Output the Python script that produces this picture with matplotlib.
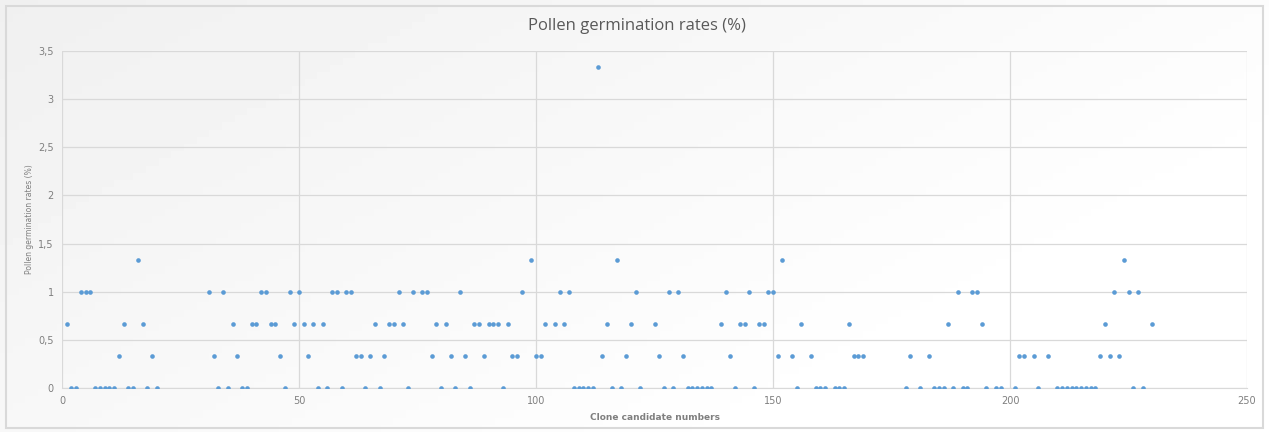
import numpy as np
import matplotlib.pyplot as plt
from matplotlib.patches import Rectangle
from matplotlib.ticker import FuncFormatter

# clone candidate number -> pollen germination rate (%)
clones = [1, 2, 3, 4, 5, 6, 7, 8, 9, 10, 11, 12, 13, 14, 15, 16, 17, 18, 19, 20,
          31, 32, 33, 34, 35, 36, 37, 38, 39, 40, 41, 42, 43, 44, 45, 46, 47, 48, 49, 50,
          51, 52, 53, 54, 55, 56, 57, 58, 59, 60, 61, 62, 63, 64, 65, 66, 67, 68, 69, 70,
          71, 72, 73, 74, 76, 77, 78, 79, 80, 81, 82, 83, 84, 85, 86, 87, 88, 89, 90,
          91, 92, 93, 94, 95, 96, 97, 99, 100, 101, 102, 104, 105, 106, 107, 108, 109, 110,
          111, 112, 113, 114, 115, 116, 117, 118, 119, 120, 121, 122, 125, 126, 127, 128, 129, 130,
          131, 132, 133, 134, 135, 136, 137, 139, 140, 141, 142, 143, 144, 145, 146, 147, 148, 149, 150,
          151, 152, 154, 155, 156, 158, 159, 160, 161, 163, 164, 165, 166, 167, 168, 169,
          178, 179, 181, 183, 184, 185, 186, 187, 188, 189, 190, 191, 192, 193, 194, 195, 197, 198,
          201, 202, 203, 205, 206, 208, 210, 211, 212, 213, 214, 215, 216, 217, 218, 219, 220,
          221, 222, 223, 224, 225, 226, 227, 228, 230]
rates = [0.667, 0, 0, 1, 1, 1, 0, 0, 0, 0, 0, 0.333, 0.667, 0, 0, 1.333, 0.667, 0, 0.333, 0,
         1, 0.333, 0, 1, 0, 0.667, 0.333, 0, 0, 0.667, 0.667, 1, 1, 0.667, 0.667, 0.333, 0, 1, 0.667, 1,
         0.667, 0.333, 0.667, 0, 0.667, 0, 1, 1, 0, 1, 1, 0.333, 0.333, 0, 0.333, 0.667, 0, 0.333, 0.667, 0.667,
         1, 0.667, 0, 1, 1, 1, 0.333, 0.667, 0, 0.667, 0.333, 0, 1, 0.333, 0, 0.667, 0.667, 0.333, 0.667,
         0.667, 0.667, 0, 0.667, 0.333, 0.333, 1, 1.333, 0.333, 0.333, 0.667, 0.667, 1, 0.667, 1, 0, 0, 0,
         0, 0, 3.333, 0.333, 0.667, 0, 1.333, 0, 0.333, 0.667, 1, 0, 0.667, 0.333, 0, 1, 0, 1,
         0.333, 0, 0, 0, 0, 0, 0, 0.667, 1, 0.333, 0, 0.667, 0.667, 1, 0, 0.667, 0.667, 1, 1,
         0.333, 1.333, 0.333, 0, 0.667, 0.333, 0, 0, 0, 0, 0, 0, 0.667, 0.333, 0.333, 0.333,
         0, 0.333, 0, 0.333, 0, 0, 0, 0.667, 0, 1, 0, 0, 1, 1, 0.667, 0, 0, 0,
         0, 0.333, 0.333, 0.333, 0, 0.333, 0, 0, 0, 0, 0, 0, 0, 0, 0, 0.333, 0.667,
         0.333, 1, 0.333, 1.333, 1, 0, 1, 0, 0.667]

title = "Pollen germination rates (%)"
xlabel = "Clone candidate numbers"
ylabel = "Pollen germination rates (%)"

W, H = 1269, 432
fig = plt.figure(figsize=(W / 100, H / 100), dpi=100)

# light gradient background like the spreadsheet chart area
bg = fig.add_axes([0, 0, 1, 1], zorder=0)
gx = np.linspace(0, 1, 200)
gy = np.linspace(0, 1, 60)
grad = 0.94 + 0.06 * np.clip((gx[None, :] * 0.8 + gy[:, None] * 0.5), 0, 1)
bg.imshow(grad, cmap="gray", vmin=0, vmax=1, aspect="auto", extent=[0, 1, 0, 1], origin="upper")
bg.add_patch(Rectangle((6 / W, 4 / H), 1 - 12 / W, 1 - 10 / H, fill=False,
                       edgecolor="#d9d9d9", linewidth=1.5))
bg.set_xlim(0, 1)
bg.set_ylim(0, 1)
bg.axis("off")

left, right, top, bottom = 62, 1247, 51, 388
ax = fig.add_axes([left / W, 1 - bottom / H, (right - left) / W, (bottom - top) / H], zorder=1)
ax.set_facecolor("none")

ax.scatter(clones, rates, s=11, color="#5b9bd5", linewidths=0, zorder=3)

ax.set_xlim(0, 250)
ax.set_ylim(0, 3.5)
ax.set_xticks(np.arange(0, 251, 50))
ax.set_yticks(np.arange(0, 3.51, 0.5))
ax.yaxis.set_major_formatter(FuncFormatter(lambda v, p: f"{v:g}".replace(".", ",")))
ax.grid(True, color="#d9d9d9", linewidth=0.9)
ax.set_axisbelow(True)
for s in ax.spines.values():
    s.set_visible(False)
ax.spines["bottom"].set_visible(True)
ax.spines["bottom"].set_color("#d9d9d9")
ax.tick_params(length=0, labelsize=7, colors="#7f7f7f", pad=6)

ax.set_xlabel(xlabel, fontsize=6.5, color="#7f7f7f", fontweight="bold", labelpad=5)
ax.set_ylabel(ylabel, fontsize=5.5, color="#7f7f7f", labelpad=3)

fig.text(0.502, 1 - 26 / H, title, ha="center", va="center", fontsize=12,
         color="#595959", fontfamily="Open Sans")

fig.savefig("out.png", dpi=100)
